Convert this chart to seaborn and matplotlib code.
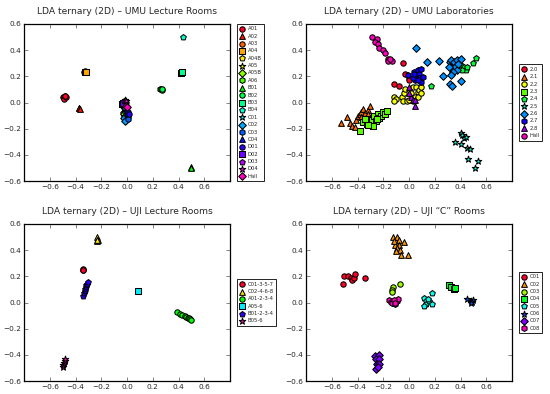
import numpy as np
import pandas as pd
import matplotlib
matplotlib.use("Agg")
import matplotlib.pyplot as plt
import seaborn as sns

# ---------------- data ----------------
umu_lec_labels = ['A01', 'A02', 'A03', 'A04', 'A04B', 'A05', 'A05B', 'A06', 'B01', 'B02', 'B03',
                  'B04', 'C01', 'C02', 'C03', 'C04', 'D01', 'D02', 'D03', 'D04', 'Hall']
umu_lec_x = [[-0.50, -0.49, -0.48, -0.49, -0.475, -0.485], [-0.375, -0.37, -0.365],
             [-0.335, -0.325, -0.315], [-0.33, -0.32], [-0.03, -0.02], [-0.02, -0.01],
             [-0.025, -0.015], [0.26, 0.265], [0.495, 0.50], [0.27, 0.275], [0.42, 0.425],
             [0.435], [-0.03, -0.02], [-0.02, -0.01, -0.015], [0.005, 0.01], [-0.005, 0.0],
             [0.01, 0.015], [-0.035, -0.03], [-0.02, -0.01], [-0.015, -0.005], [-0.005, 0.0]]
umu_lec_y = [[0.045, 0.04, 0.05, 0.03, 0.045, 0.05], [-0.045, -0.04, -0.05],
             [0.235, 0.24, 0.23], [0.235, 0.23], [-0.08, -0.07], [-0.05, -0.06],
             [-0.09, -0.10], [0.105, 0.10], [-0.49, -0.50], [0.095, 0.10], [0.225, 0.23],
             [0.50], [-0.02, -0.04], [-0.12, -0.13, -0.14], [-0.11, -0.125], [-0.06, -0.08],
             [-0.075, -0.085], [-0.01, 0.0], [0.01, 0.0], [0.02, 0.015], [-0.03, -0.035]]

umu_lab_labels = ['2.0', '2.1', '2.2', '2.3', '2.4', '2.5', '2.6', '2.7', '2.8', 'Hall']
umu_lab_x = [
    [-0.047, -0.03, 0.0, 0.0, -0.12, -0.08, -0.16],
    [-0.53, -0.48, -0.46, -0.44, -0.42, -0.41, -0.40, -0.38, -0.37, -0.36, -0.34, -0.32, -0.30, -0.315, -0.375],
    [-0.12, -0.10, -0.055, -0.04, -0.03, -0.05, -0.015, 0.015, 0.03, 0.055, 0.07, 0.08, 0.095, 0.05, 0.07, 0.03, 0.0, -0.115, 0.09],
    [-0.38, -0.36, -0.33, -0.315, -0.30, -0.29, -0.27, -0.26, -0.24, -0.23, -0.22, -0.205, -0.19, -0.17, -0.245, -0.28, -0.315, -0.34],
    [0.17, 0.405, 0.425, 0.44, 0.45, 0.50, 0.52, 0.41],
    [0.40, 0.41, 0.425, 0.44, 0.355, 0.405, 0.45, 0.47, 0.46, 0.535, 0.515],
    [0.055, 0.14, 0.23, 0.265, 0.315, 0.33, 0.35, 0.37, 0.40, 0.33, 0.355, 0.37, 0.34, 0.33, 0.40, 0.315, 0.335, 0.38, 0.31],
    [-0.005, 0.04, 0.055, 0.07, 0.08, 0.095, 0.075, 0.09, 0.05, 0.03, 0.07, 0.105, 0.035],
    [0.0, 0.015, 0.03, 0.05, 0.0, 0.05],
    [-0.29, -0.25, -0.265, -0.24, -0.23, -0.205, -0.185, -0.165, -0.13, -0.15],
]
umu_lab_y = [
    [0.305, 0.22, 0.19, 0.17, 0.14, 0.125, 0.335],
    [-0.16, -0.11, -0.16, -0.18, -0.185, -0.13, -0.10, -0.085, -0.07, -0.05, -0.08, -0.06, -0.03, -0.085, -0.11],
    [0.04, 0.03, 0.04, 0.07, 0.10, 0.015, 0.015, 0.07, 0.115, 0.115, 0.08, 0.095, 0.115, 0.04, 0.04, 0.015, 0.02, 0.015, 0.07],
    [-0.22, -0.15, -0.165, -0.125, -0.16, -0.135, -0.105, -0.14, -0.085, -0.115, -0.10, -0.075, -0.085, -0.065, -0.125, -0.18, -0.175, -0.125],
    [0.125, 0.285, 0.27, 0.25, 0.275, 0.305, 0.34, 0.25],
    [-0.235, -0.25, -0.27, -0.265, -0.305, -0.32, -0.345, -0.355, -0.43, -0.45, -0.50],
    [0.415, 0.31, 0.315, 0.205, 0.31, 0.325, 0.31, 0.325, 0.33, 0.26, 0.275, 0.25, 0.23, 0.21, 0.165, 0.14, 0.125, 0.295, 0.275],
    [0.21, 0.235, 0.20, 0.25, 0.22, 0.255, 0.185, 0.16, 0.17, 0.19, 0.17, 0.195, 0.22],
    [0.115, 0.04, 0.02, 0.02, 0.07, -0.025],
    [0.50, 0.485, 0.465, 0.45, 0.415, 0.40, 0.375, 0.315, 0.315, 0.335],
]

uji_lec_labels = ['C01-3-5-7', 'C02-4-6-8', 'A01-2-3-4', 'A05-6', 'B01-2-3-4', 'B05-6']
uji_lec_x = [[-0.345, -0.34, -0.345], [-0.235, -0.23, -0.225, -0.23],
             [0.39, 0.41, 0.43, 0.45, 0.46, 0.47, 0.48, 0.49, 0.50], [0.083],
             [-0.34, -0.335, -0.33, -0.325, -0.32, -0.315, -0.31, -0.305],
             [-0.50, -0.495, -0.49, -0.485, -0.48]]
uji_lec_y = [[0.25, 0.255, 0.245], [0.47, 0.50, 0.48, 0.475],
             [-0.075, -0.085, -0.095, -0.105, -0.11, -0.115, -0.12, -0.125, -0.13], [0.085],
             [0.05, 0.07, 0.085, 0.10, 0.115, 0.13, 0.145, 0.155],
             [-0.495, -0.48, -0.465, -0.45, -0.435]]

uji_c_labels = ['C01', 'C02', 'C03', 'C04', 'C05', 'C06', 'C07', 'C08']
uji_c_x = [[-0.51, -0.505, -0.47, -0.45, -0.44, -0.43, -0.42, -0.34],
           [-0.125, -0.09, -0.08, -0.04, -0.105, -0.08, -0.09, -0.07, -0.065, -0.005, -0.10, -0.115],
           [-0.125, -0.13, -0.135, -0.07],
           [0.31, 0.33, 0.35, 0.355],
           [0.115, 0.13, 0.135, 0.12, 0.155, 0.175, 0.18, 0.15],
           [0.45, 0.485, 0.495, 0.49, 0.48],
           [-0.265, -0.235, -0.26, -0.23, -0.25, -0.23, -0.255, -0.24],
           [-0.155, -0.14, -0.13, -0.11, -0.095, -0.085, -0.12, -0.105]]
uji_c_y = [[0.145, 0.20, 0.20, 0.185, 0.17, 0.19, 0.215, 0.185],
           [0.50, 0.50, 0.48, 0.465, 0.44, 0.44, 0.415, 0.40, 0.36, 0.365, 0.39, 0.47],
           [0.115, 0.095, 0.08, 0.14],
           [0.13, 0.115, 0.105, 0.11],
           [0.035, 0.01, -0.01, -0.025, 0.01, -0.01, 0.07, 0.025],
           [0.025, 0.01, 0.02, 0.005, 0.0],
           [-0.41, -0.40, -0.435, -0.43, -0.47, -0.47, -0.505, -0.49],
           [0.02, 0.005, 0.0, -0.015, 0.01, 0.025, 0.02, 0.0]]

x_ticks = [-0.6, -0.4, -0.2, 0.0, 0.2, 0.4, 0.6]
y_ticks = [-0.6, -0.4, -0.2, 0.0, 0.2, 0.4, 0.6]

# ---------------- style ----------------
sns.set_style("ticks", {"xtick.direction": "in", "ytick.direction": "in",
                        "axes.edgecolor": "black"})
plt.rcParams['font.family'] = ['DejaVu Sans']

MARKER_CYCLE = ['^', 'o', 's', 'p', '*', 'D', 'h']
MARKER_SIZE = {'o': 15, '^': 17, 's': 14, 'p': 18, '*': 24, 'D': 15, 'h': 18}


def marker_for(i):
    return 'o' if i == 0 else MARKER_CYCLE[(i - 1) % 7]


def panel(ax, title, labels, xs, ys):
    frames = [pd.DataFrame({'x': x, 'y': y, 'room': lab}) for lab, x, y in zip(labels, xs, ys)]
    df = pd.concat(frames, ignore_index=True)
    colors = plt.get_cmap('gist_rainbow')(np.linspace(0, 1, len(labels)))
    for i, lab in enumerate(labels):
        m = marker_for(i)
        sns.scatterplot(data=df[df['room'] == lab], x='x', y='y', color=colors[i], marker=m,
                        s=MARKER_SIZE[m], edgecolor='black', linewidth=0.75, ax=ax,
                        label=lab, legend=False, zorder=3)
    ax.set_xlim(-0.8, 0.8)
    ax.set_ylim(-0.6, 0.6)
    ax.set_xticks(x_ticks)
    ax.set_yticks(y_ticks)
    ax.set_xticklabels([f"{t:.1f}".replace('-', '\u2212') for t in x_ticks])
    ax.set_yticklabels([f"{t:.1f}".replace('-', '\u2212') for t in y_ticks])
    ax.set_xlabel('')
    ax.set_ylabel('')
    ax.tick_params(direction='in', top=True, right=True, labelsize=5.3, length=3,
                   width=0.5, pad=2, color='#555555')
    for sp in ax.spines.values():
        sp.set_color('black')
        sp.set_linewidth(0.9)
    ax.set_title(title, fontsize=6.6, pad=7)
    leg = ax.legend(loc='center left', bbox_to_anchor=(1.033, 0.5), fontsize=3.8,
                    frameon=True, fancybox=False, edgecolor='black', framealpha=1,
                    scatterpoints=1, labelspacing=0.45, borderpad=0.45, handletextpad=0.4,
                    handlelength=1.2, borderaxespad=0)
    leg.get_frame().set_linewidth(0.6)


fig = plt.figure(figsize=(5.5, 3.94), dpi=100)
W, H = 550, 394


def add_axes(left, top, width=206, height=157):
    return fig.add_axes([left / W, 1 - (top + height) / H, width / W, height / H])


ax1 = add_axes(24, 24)
ax2 = add_axes(306, 24)
ax3 = add_axes(24, 224)
ax4 = add_axes(306, 224)

panel(ax1, 'LDA ternary (2D) \u2013 UMU Lecture Rooms', umu_lec_labels, umu_lec_x, umu_lec_y)
panel(ax2, 'LDA ternary (2D) \u2013 UMU Laboratories', umu_lab_labels, umu_lab_x, umu_lab_y)
panel(ax3, 'LDA ternary (2D) \u2013 UJI Lecture Rooms', uji_lec_labels, uji_lec_x, uji_lec_y)
panel(ax4, 'LDA ternary (2D) \u2013 UJI \u201cC\u201d Rooms', uji_c_labels, uji_c_x, uji_c_y)

fig.savefig('out.png', dpi=100)
